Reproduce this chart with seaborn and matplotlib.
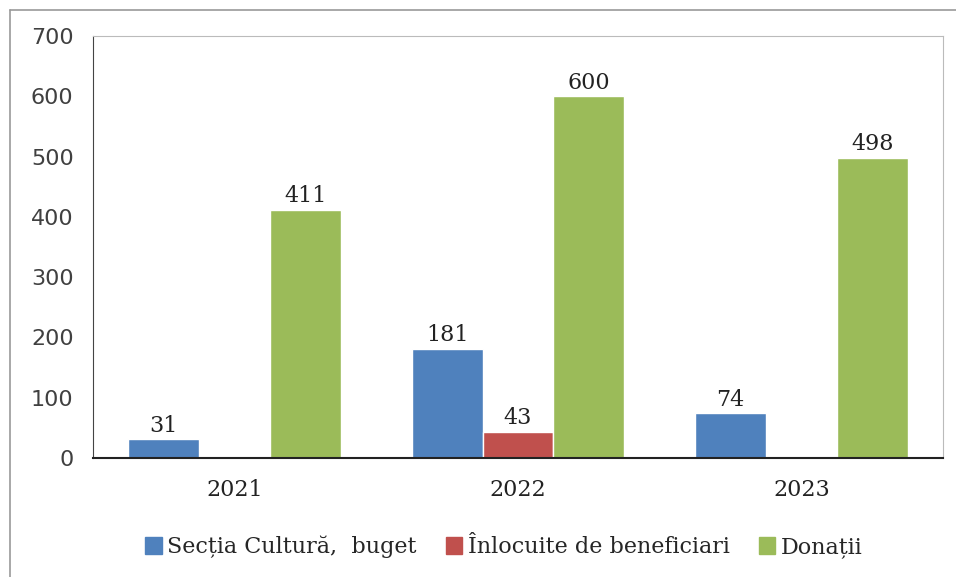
import pandas as pd
import numpy as np
import matplotlib.pyplot as plt
import seaborn as sns
from matplotlib.lines import Line2D

# Values
years = ["2021", "2022", "2023"]
series = ["Secția Cultură,  buget", "Înlocuite de beneficiari", "Donații"]
sectia = [31, 181, 74]
inlocuite = [0, 43, 0]
donatii = [411, 600, 498]
colors = ["#4F81BD", "#C0504D", "#9BBB59"]

df = pd.DataFrame({
    "an": years * 3,
    "serie": [series[0]] * 3 + [series[1]] * 3 + [series[2]] * 3,
    "valoare": sectia + inlocuite + donatii,
})

sns.set_style("white")
plt.rcParams['font.family'] = ['DejaVu Serif']

fig = plt.figure(figsize=(9.56, 5.77), dpi=100)
ax = fig.add_axes([0.0973, 0.2062, 0.8891, 0.7314])

sns.barplot(data=df, x="an", y="valoare", hue="serie", palette=colors,
            width=0.75, saturation=1, errorbar=None, ax=ax)

for cont in ax.containers:
    labels = [f"{v:.0f}" if v > 0 else "" for v in cont.datavalues]
    ax.bar_label(cont, labels=labels, padding=2, fontsize=16, color="#222222")

ax.set_ylim(0, 700)
ax.set_yticks(range(0, 701, 100))
ax.set_xlabel("")
ax.set_ylabel("")
for lab in ax.get_yticklabels():
    lab.set_fontfamily("DejaVu Sans")
    lab.set_color("#404040")
ax.tick_params(axis="y", labelsize=16, length=0, pad=14)
ax.tick_params(axis="x", labelsize=16, length=0, pad=15, labelcolor="#222222")

for side in ["top", "right"]:
    ax.spines[side].set_color("#bbbbbb")
    ax.spines[side].set_linewidth(0.8)
ax.spines["left"].set_color("#444444")
ax.spines["bottom"].set_color("#222222")
ax.spines["bottom"].set_linewidth(1.5)

ax.legend_.remove()
handles = [plt.Rectangle((0, 0), 1, 1, color=c) for c in colors]
fig.legend(handles, series, loc="center", bbox_to_anchor=(0.527, 0.052), ncol=3,
           frameon=False, fontsize=16, handlelength=0.75, handleheight=0.75,
           handletextpad=0.25, columnspacing=1.3)

# outer frame (left and top)
fig.add_artist(Line2D([0.0105, 0.0105], [0, 0.983], color="#999999", lw=1.2))
fig.add_artist(Line2D([0.0105, 1.0], [0.983, 0.983], color="#999999", lw=1.2))

plt.savefig("out.png", dpi=100)
